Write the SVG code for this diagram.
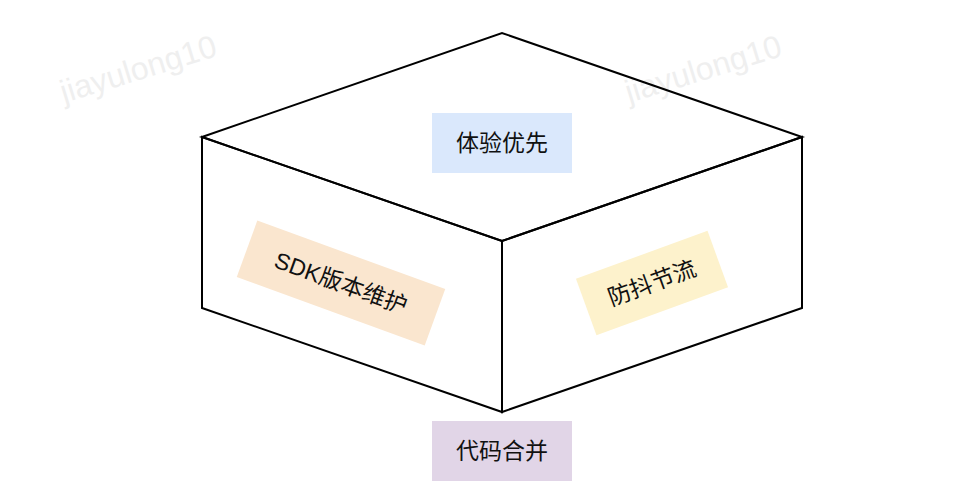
<svg xmlns="http://www.w3.org/2000/svg" width="958" height="500" viewBox="0 0 958 500">
<style>
.edge{fill:none;stroke:#000;stroke-width:2;stroke-linejoin:miter}
.lbl{font-family:"Liberation Sans","Noto Sans CJK SC",sans-serif;font-size:23px;fill:#111;text-anchor:middle;dominant-baseline:central}
.wm{font-family:"Liberation Sans",Arial,sans-serif;font-size:32px;fill:#efefef}
</style>
<rect width="958" height="500" fill="#fff"/>
<g id="watermarks">
<text class="wm" transform="translate(64,103) rotate(-17)">jiayulong10</text>
<text class="wm" transform="translate(629,103) rotate(-17)">jiayulong10</text>
</g>
<g id="connectors">
<polygon class="edge" points="202,137 502,33 802,137 502,241"/>
<polygon class="edge" points="202,137 502,241 502,412 202,308"/>
<polygon class="edge" points="502,241 802,137 802,308 502,412"/>
</g>
<g id="node-top">
<rect x="432" y="113" width="140" height="60" fill="#dae8fc"/>
<text class="lbl" x="502" y="143">体验优先</text>
</g>
<g id="node-left" transform="translate(341,283) rotate(20)">
<rect x="-100" y="-30" width="200" height="60" fill="#fae6cf"/>
<text class="lbl" x="0" y="0">SDK版本维护</text>
</g>
<g id="node-right" transform="translate(652,283) rotate(-20)">
<rect x="-70" y="-30" width="140" height="60" fill="#fdf2cc"/>
<text class="lbl" x="0" y="0">防抖节流</text>
</g>
<g id="node-bottom">
<rect x="432" y="421" width="140" height="60" fill="#e1d5e7"/>
<text class="lbl" x="502" y="451">代码合并</text>
</g>
</svg>
